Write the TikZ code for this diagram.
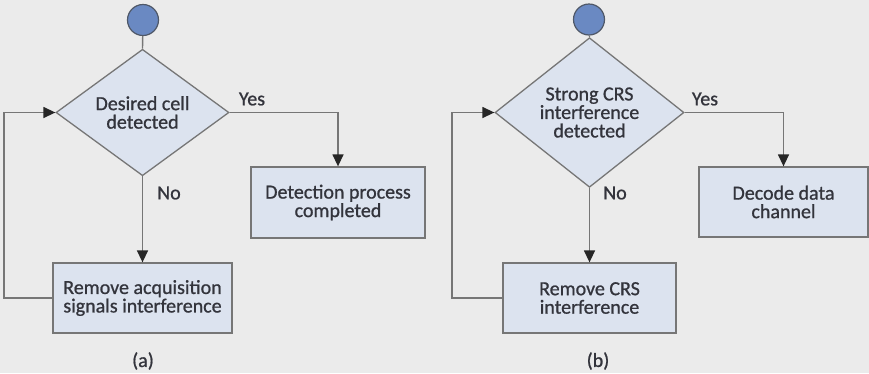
\documentclass[tikz,border=0pt]{standalone}
\usepackage{fontspec}
\setmainfont{Carlito}[FakeBold=0.9]
\usetikzlibrary{shapes.geometric,arrows.meta}
\definecolor{bgc}{HTML}{EBEBEB}
\definecolor{boxfill}{HTML}{DCE3EF}
\definecolor{edge}{HTML}{767676}
\definecolor{startfill}{HTML}{6A89C2}
\definecolor{startedge}{HTML}{4F5868}
\definecolor{txt}{HTML}{33343C}
\tikzset{
  x=1pt, y=-1pt,
  every node/.style={text=txt, font=\fontsize{20}{18.5}\selectfont},
  startnode/.style={circle, draw=startedge, fill=startfill, line width=1.2pt, minimum size=31pt, inner sep=0pt},
  decision/.style={diamond, draw=edge, fill=boxfill, line width=1.3pt, inner sep=0pt, align=center},
  procbox/.style={rectangle, draw=edge, fill=boxfill, line width=1.3pt, inner sep=0pt, align=center},
  flow/.style={draw=edge, line width=1.4pt},
  arrowflow/.style={flow, -{Triangle[length=12pt,width=11pt,color=black!85]}},
  lbl/.style={inner sep=0pt}
}
\begin{document}
\begin{tikzpicture}
\useasboundingbox[fill=bgc] (0,0) rectangle (869,373);

% ---- panel (a) ----
\node[startnode] (sa) at (143,20) {};
\node[decision, minimum width=173pt, minimum height=103pt] (da) at (142.5,112.5) {Desired cell\\detected};
\node[procbox, minimum width=174pt, minimum height=71pt] (ya) at (338,202.5) {Detection process\\completed};
\node[procbox, minimum width=179pt, minimum height=70pt] (na) at (142.5,298) {Remove acquisition\\signals interference};
\coordinate (la) at (4,0);

\draw[flow] (sa) -- (da.north);
\draw[arrowflow] (da.east) -| (ya.north);
\draw[arrowflow] (da.south) -- (na.north);
\draw[arrowflow] (na.west) -| (la |- da.west) -- (da.west);

\node[lbl] (yesa) at (252,99) {Yes};
\node[lbl] (noa) at (169,193) {No};
\node[lbl] (capa) at (143,361) {(a)};

% ---- panel (b) ----
\node[startnode] (sb) at (589,19.5) {};
\node[decision, minimum width=189pt, minimum height=111pt] (db) at (589.5,112.5) {Strong CRS\\interference\\detected};
\node[procbox, minimum width=169pt, minimum height=70pt] (yb) at (783.5,202) {Decode data\\channel};
\node[procbox, minimum width=173pt, minimum height=70pt] (nb) at (589.5,298) {Remove CRS\\interference};
\coordinate (lb) at (452,0);

\draw[flow] (sb) -- (db.north);
\draw[arrowflow] (db.east) -| (yb.north);
\draw[arrowflow] (db.south) -- (nb.north);
\draw[arrowflow] (nb.west) -| (lb |- db.west) -- (db.west);

\node[lbl] (yesb) at (705,99) {Yes};
\node[lbl] (nob) at (615,193) {No};
\node[lbl] (capb) at (598,361) {(b)};
\end{tikzpicture}
\end{document}
